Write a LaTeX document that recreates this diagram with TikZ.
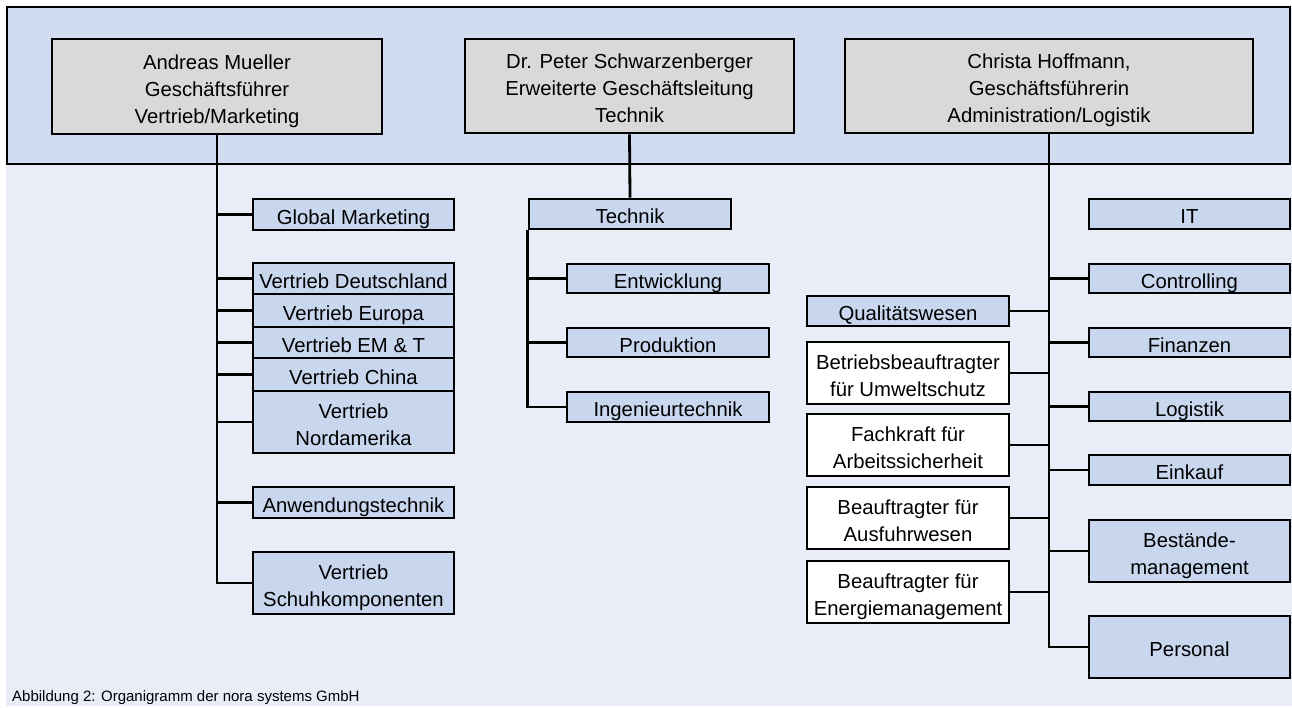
\documentclass[tikz,border=0pt]{standalone}
\usepackage{fontspec}
\setmainfont{Liberation Sans}
\definecolor{bandfill}{HTML}{D1DCF0}
\definecolor{bgfill}{HTML}{E9EDF8}
\definecolor{boxgray}{HTML}{D9D9D9}
\definecolor{boxblue}{HTML}{C8D6EE}
\newcommand\topstrut{\rule{0pt}{24pt}}
\newcommand\botstrut{\rule[-5pt]{0pt}{5pt}}
\begin{document}
\begin{tikzpicture}[x=1pt,y=-1pt,
  base/.style={draw=black, line width=2.8pt, inner sep=0pt, align=center,
    font=\fontsize{20.3}{27}\selectfont},
  sz/.style 2 args={minimum width=#1pt, minimum height=#2pt},
  headbox/.style={base, fill=boxgray},
  unitbox/.style={base, fill=boxblue},
  staffbox/.style={base, fill=white},
  conn/.style={line width=2.8pt}]
\useasboundingbox (0,0) rectangle (1292,707);
\fill[white] (0,0) rectangle (1292,707);
\fill[bgfill] (6,6) rectangle (1292,706);
\draw[fill=bandfill, line width=2.8pt] (7,7) rectangle (1290,164);

% heads
\node[headbox, sz={330}{95}] (a) at (217,86.5) {\topstrut Andreas Mueller\\Geschäftsführer\\Vertrieb/Marketing\botstrut};
\node[headbox, sz={329}{94}] (b) at (629.5,86) {\topstrut Dr. Peter Schwarzenberger\\Erweiterte Geschäftsleitung\\Technik\botstrut};
\node[headbox, sz={408}{94}] (c) at (1049,86) {\topstrut Christa Hoffmann,\\Geschäftsführerin\\Administration/Logistik\botstrut};

% left column
\node[unitbox, sz={201}{31}] (gm) at (353.5,214.5) {\topstrut Global Marketing\botstrut};
\node[unitbox, sz={201}{31}] (vd) at (353.5,278.5) {\topstrut Vertrieb Deutschland\botstrut};
\node[unitbox, sz={201}{33}] (ve) at (353.5,310.5) {\topstrut Vertrieb Europa\botstrut};
\node[unitbox, sz={201}{31}] (vem) at (353.5,342.5) {\topstrut Vertrieb EM \& T\botstrut};
\node[unitbox, sz={201}{33}] (vc) at (353.5,374.5) {\topstrut Vertrieb China\botstrut};
\node[unitbox, sz={201}{62}] (vn) at (353.5,422) {\topstrut Vertrieb\\Nordamerika\botstrut};
\node[unitbox, sz={201}{31}] (aw) at (353.5,502.5) {\topstrut Anwendungstechnik\botstrut};
\node[unitbox, sz={201}{62}] (vs) at (353.5,583) {\topstrut Vertrieb\\Schuhkomponenten\botstrut};

% middle column
\node[unitbox, sz={202}{30}] (tech) at (630,214) {\topstrut Technik\botstrut};
\node[unitbox, sz={202}{29}] (ent) at (668,278.5) {\topstrut Entwicklung\botstrut};
\node[unitbox, sz={202}{29}] (prod) at (668,342.5) {\topstrut Produktion\botstrut};
\node[unitbox, sz={202}{30}] (ing) at (668,407) {\topstrut Ingenieurtechnik\botstrut};

% right column, right side
\node[unitbox, sz={201}{30}] (it) at (1189.5,214) {\topstrut IT\botstrut};
\node[unitbox, sz={201}{29}] (ctrl) at (1189.5,278.5) {\topstrut Controlling\botstrut};
\node[unitbox, sz={201}{29}] (fin) at (1189.5,342.5) {\topstrut Finanzen\botstrut};
\node[unitbox, sz={201}{29}] (log) at (1189.5,406.5) {\topstrut Logistik\botstrut};
\node[unitbox, sz={201}{30}] (eink) at (1189.5,470) {\topstrut Einkauf\botstrut};
\node[unitbox, sz={201}{62}] (best) at (1189.5,551) {\topstrut Bestände-\\management\botstrut};
\node[unitbox, sz={201}{62}] (pers) at (1189.5,647) {\topstrut Personal\botstrut};

% right column, left side
\node[unitbox, sz={202}{30}] (qual) at (908,311) {\topstrut Qualitätswesen\botstrut};
\node[staffbox, sz={202}{62}] (betr) at (908,373) {\topstrut Betriebsbeauftragter\\für Umweltschutz\botstrut};
\node[staffbox, sz={202}{62}] (fach) at (908,445) {\topstrut Fachkraft für\\Arbeitssicherheit\botstrut};
\node[staffbox, sz={202}{62}] (ausf) at (908,518) {\topstrut Beauftragter für\\Ausfuhrwesen\botstrut};
\node[staffbox, sz={202}{62}] (ener) at (908,592) {\topstrut Beauftragter für\\Energiemanagement\botstrut};

% connectors left
\draw[conn] (a.south) |- (vs.west);
\foreach \n in {gm,vd,ve,vem,vc,vn,aw}
  \draw[conn] (\n.west) -- (\n.west -| a.south);

% connectors middle
\draw[conn] (b.south) -- (tech.north);
\draw[conn] (tech.south west) |- (ing.west);
\foreach \n in {ent,prod}
  \draw[conn] (\n.west) -- (\n.west -| tech.south west);

% connectors right
\draw[conn] (c.south) |- (pers.west);
\foreach \n in {ctrl,fin,log,eink,best}
  \draw[conn] (\n.west) -- (\n.west -| c.south);
\foreach \n in {qual,betr,fach,ausf,ener}
  \draw[conn] (\n.east) -- (\n.east -| c.south);

\node[anchor=base west, inner sep=0pt, font=\fontsize{15}{18}\selectfont] (cap) at (12,701) {Abbildung 2: Organigramm der nora systems GmbH};
\end{tikzpicture}
\end{document}
